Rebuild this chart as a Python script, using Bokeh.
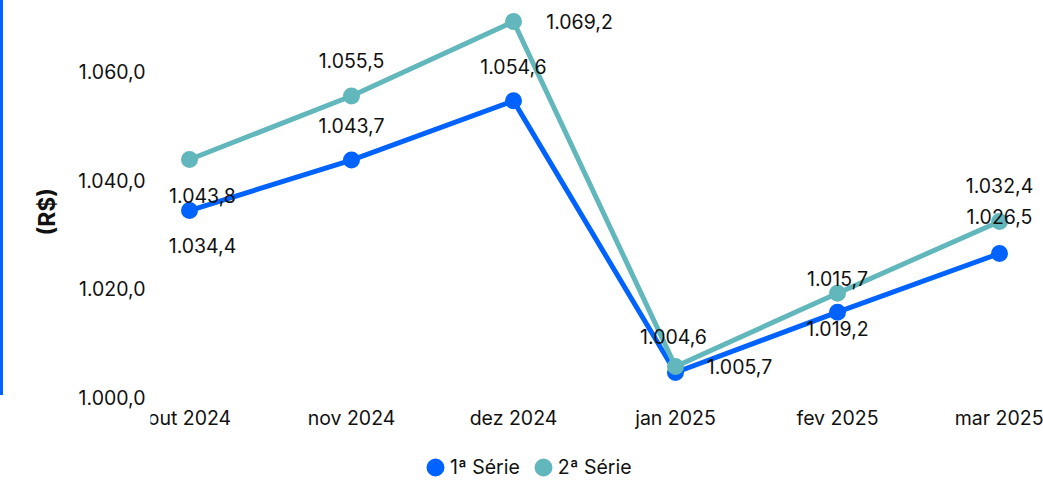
from bokeh.plotting import figure
from bokeh.models import (ColumnDataSource, FixedTicker, Legend, LegendItem, Title,
                          GlobalInlineStyleSheet, Range1d)
from bokeh.core.properties import value
from bokeh.embed import file_html
from bokeh.resources import INLINE

months = ["out 2024", "nov 2024", "dez 2024", "jan 2025", "fev 2025", "mar 2025"]
serie1 = [1034.4, 1043.7, 1054.6, 1004.6, 1015.7, 1026.5]
serie2 = [1043.8, 1055.5, 1069.2, 1005.7, 1019.2, 1032.4]
y_ticks = [1000, 1020, 1040, 1060]
y_tick_labels = ["1.000,0", "1.020,0", "1.040,0", "1.060,0"]
series_names = ["1ª Série", "2ª Série"]
y_unit = "(R$)"

BLUE = "#0063FF"
TEAL = "#62B7BD"
FONT = "Inter"
FS = "19.5px"
TXT = "#111111"

def fmt(v):
    s = f"{v:,.1f}"
    return s.replace(",", "X").replace(".", ",").replace("X", ".")

# label offsets (screen px; styling only)
off1 = [(13, 35), (0, -35), (0, -34), (-2, -36), (0, -34), (0, -37)]
off2 = [(13, 36), (0, -35), (66, 0), (64, 0), (0, 35), (0, -36)]

xs = list(range(len(months)))

p = figure(width=1043, height=482, output_backend="svg", toolbar_location=None,
           x_range=Range1d(-0.2407, 5.2716), y_range=Range1d(984.35, 1071.23),
           min_border_left=150, min_border_right=0, min_border_top=10, min_border_bottom=0)
p.outline_line_color = None
p.xgrid.visible = False
p.ygrid.visible = False

s1 = ColumnDataSource(dict(x=xs, y=serie1, t=[fmt(v) for v in serie1],
                           dx=[o[0] for o in off1], dy=[o[1] for o in off1]))
s2 = ColumnDataSource(dict(x=xs, y=serie2, t=[fmt(v) for v in serie2],
                           dx=[o[0] for o in off2], dy=[o[1] for o in off2]))

p.line("x", "y", source=s1, line_color=BLUE, line_width=5)
r1 = p.scatter("x", "y", source=s1, size=11, fill_color=BLUE, line_color=BLUE, line_width=6)
p.line("x", "y", source=s2, line_color=TEAL, line_width=5)
r2 = p.scatter("x", "y", source=s2, size=11, fill_color=TEAL, line_color=TEAL, line_width=6)

for src in (s1, s2):
    p.text("x", "y", text="t", source=src, x_offset="dx", y_offset="dy",
           text_align="center", text_baseline="middle", text_font=value(FONT),
           text_font_size=FS, text_color=TXT)

for ax in (p.xaxis[0], p.yaxis[0]):
    ax.axis_line_color = None
    ax.major_tick_line_color = None
    ax.minor_tick_line_color = None
    ax.major_tick_in = 0
    ax.major_tick_out = 0
    ax.minor_tick_in = 0
    ax.minor_tick_out = 0
    ax.major_label_text_font = FONT
    ax.major_label_text_font_size = FS
    ax.major_label_text_color = TXT

p.xaxis.ticker = FixedTicker(ticks=xs)
p.xaxis.major_label_overrides = {i: m for i, m in enumerate(months)}
p.xaxis.major_label_standoff = 6
p.xaxis.fixed_location = 999.45

p.yaxis.ticker = FixedTicker(ticks=y_ticks)
p.yaxis.major_label_overrides = {t: l for t, l in zip(y_ticks, y_tick_labels)}
p.yaxis.major_label_standoff = 5

ytitle = Title(text=y_unit, align="left", offset=247, standoff=29,
               text_font=FONT, text_font_style="bold", text_font_size="23px",
               text_color=TXT)
p.add_layout(ytitle, "left")

legend = Legend(items=[LegendItem(label=series_names[0], renderers=[r1]),
                       LegendItem(label=series_names[1], renderers=[r2])],
                orientation="horizontal", location=(270, 0),
                label_text_font=FONT, label_text_font_size=FS, label_text_color=TXT,
                glyph_width=30, glyph_height=30, spacing=8, label_standoff=0,
                border_line_color=None, background_fill_alpha=0, padding=0, margin=0)
p.add_layout(legend, "center")

p.stylesheets = [GlobalInlineStyleSheet(css=(
    "html, body { margin: 0 !important; padding: 0; }"
    "body::before { content: ''; position: fixed; left: 0; top: 0; width: 3px;"
    " height: 395px; background: " + BLUE + "; z-index: 10; }"))]

open("out.html", "w").write(file_html(p, INLINE))
